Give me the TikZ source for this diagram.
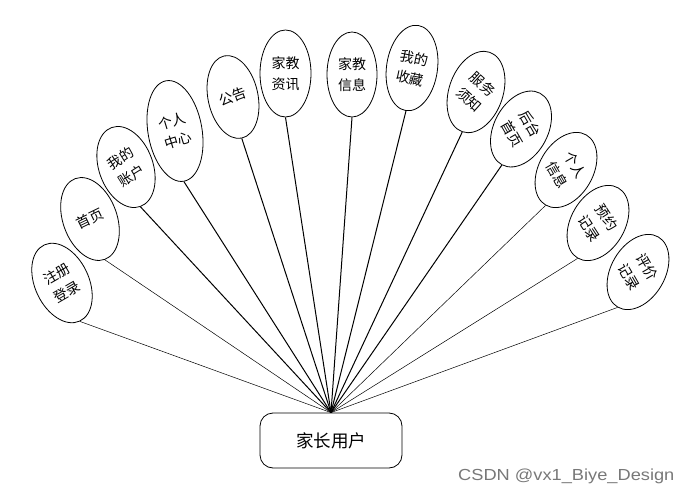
\documentclass[tikz,border=0pt]{standalone}
\usepackage{fontspec}
\setmainfont{Noto Sans CJK SC}
\newfontfamily\wmfont{Liberation Sans}
\usetikzlibrary{shapes.geometric}
\definecolor{wmgray}{RGB}{120,120,120}
\begin{document}
\begin{tikzpicture}[x=1pt,y=-1pt,
  ell/.style={ellipse, draw, line width=0.8pt, inner sep=0pt, fill=white},
  lbl/.style={align=center, font=\fontsize{14}{20.5}\selectfont, inner sep=0pt},
  thinlink/.style={line width=0.5pt},
  thicklink/.style={line width=1pt},
  hubbox/.style={draw, rounded corners=13pt, line width=0.8pt, minimum width=142pt, minimum height=55pt, font=\fontsize{17.5}{20}\selectfont}
]
\useasboundingbox (0,0) rectangle (690,494);

\node[hubbox] (hub) at (331,440.5) {家长用户};

\node[ell, minimum width=54pt, minimum height=84pt, rotate=25] (e1) at (62,283) {};
\node[lbl, rotate=30] (t1) at (e1.center) {注册\\登录};
\node[ell, minimum width=54pt, minimum height=86pt, rotate=20] (e2) at (90,219) {};
\node[lbl, rotate=26] (t2) at (e2.center) {首页};
\node[ell, minimum width=54pt, minimum height=84pt, rotate=20] (e3) at (126,167) {};
\node[lbl, rotate=32] (t3) at (e3.center) {我的\\账户};
\node[ell, minimum width=54pt, minimum height=102pt, rotate=10] (e4) at (175,131) {};
\node[lbl, rotate=17] (t4) at (e4.center) {个人\\中心};
\node[ell, minimum width=50pt, minimum height=84pt, rotate=12] (e5) at (233,97) {};
\node[lbl, rotate=20] (t5) at (e5.center) {公告};
\node[ell, minimum width=51pt, minimum height=87pt] (e6) at (285.5,73.5) {};
\node[lbl] (t6) at (e6.center) {家教\\资讯};
\node[ell, minimum width=50pt, minimum height=85pt] (e7) at (352,74.5) {};
\node[lbl] (t7) at (e7.center) {家教\\信息};
\node[ell, minimum width=51pt, minimum height=86pt, rotate=-8] (e8) at (412,68) {};
\node[lbl, rotate=-12] (t8) at (e8.center) {我的\\收藏};
\node[ell, minimum width=54pt, minimum height=84pt, rotate=-19] (e9) at (476,92) {};
\node[lbl, rotate=-42] (t9) at (e9.center) {服务\\须知};
\node[ell, minimum width=54pt, minimum height=81pt, rotate=-28] (e10) at (521,129) {};
\node[lbl, rotate=-60] (t10) at (e10.center) {后台\\首页};
\node[ell, minimum width=54pt, minimum height=81pt, rotate=-30] (e11) at (566,170) {};
\node[lbl, rotate=-60] (t11) at (e11.center) {个人\\信息};
\node[ell, minimum width=54pt, minimum height=81pt, rotate=-30] (e12) at (598,223) {};
\node[lbl, rotate=-57] (t12) at (e12.center) {预约\\记录};
\node[ell, minimum width=54pt, minimum height=81pt, rotate=-30] (e13) at (638,272) {};
\node[lbl, rotate=-60] (t13) at (e13.center) {评价\\记录};

\foreach \i in {1,2,11,12,13} \draw[thinlink] (e\i.south) -- (hub.north);
\foreach \i in {3,4,5,6,7,8,9,10} \draw[thicklink] (e\i.south) -- (hub.north);

\node[font=\wmfont\fontsize{16}{16}\selectfont, text=wmgray, anchor=west, inner sep=0pt, xscale=1.14] (wm) at (458,476) {CSDN @vx1\_Biye\_Design};
\end{tikzpicture}
\end{document}
